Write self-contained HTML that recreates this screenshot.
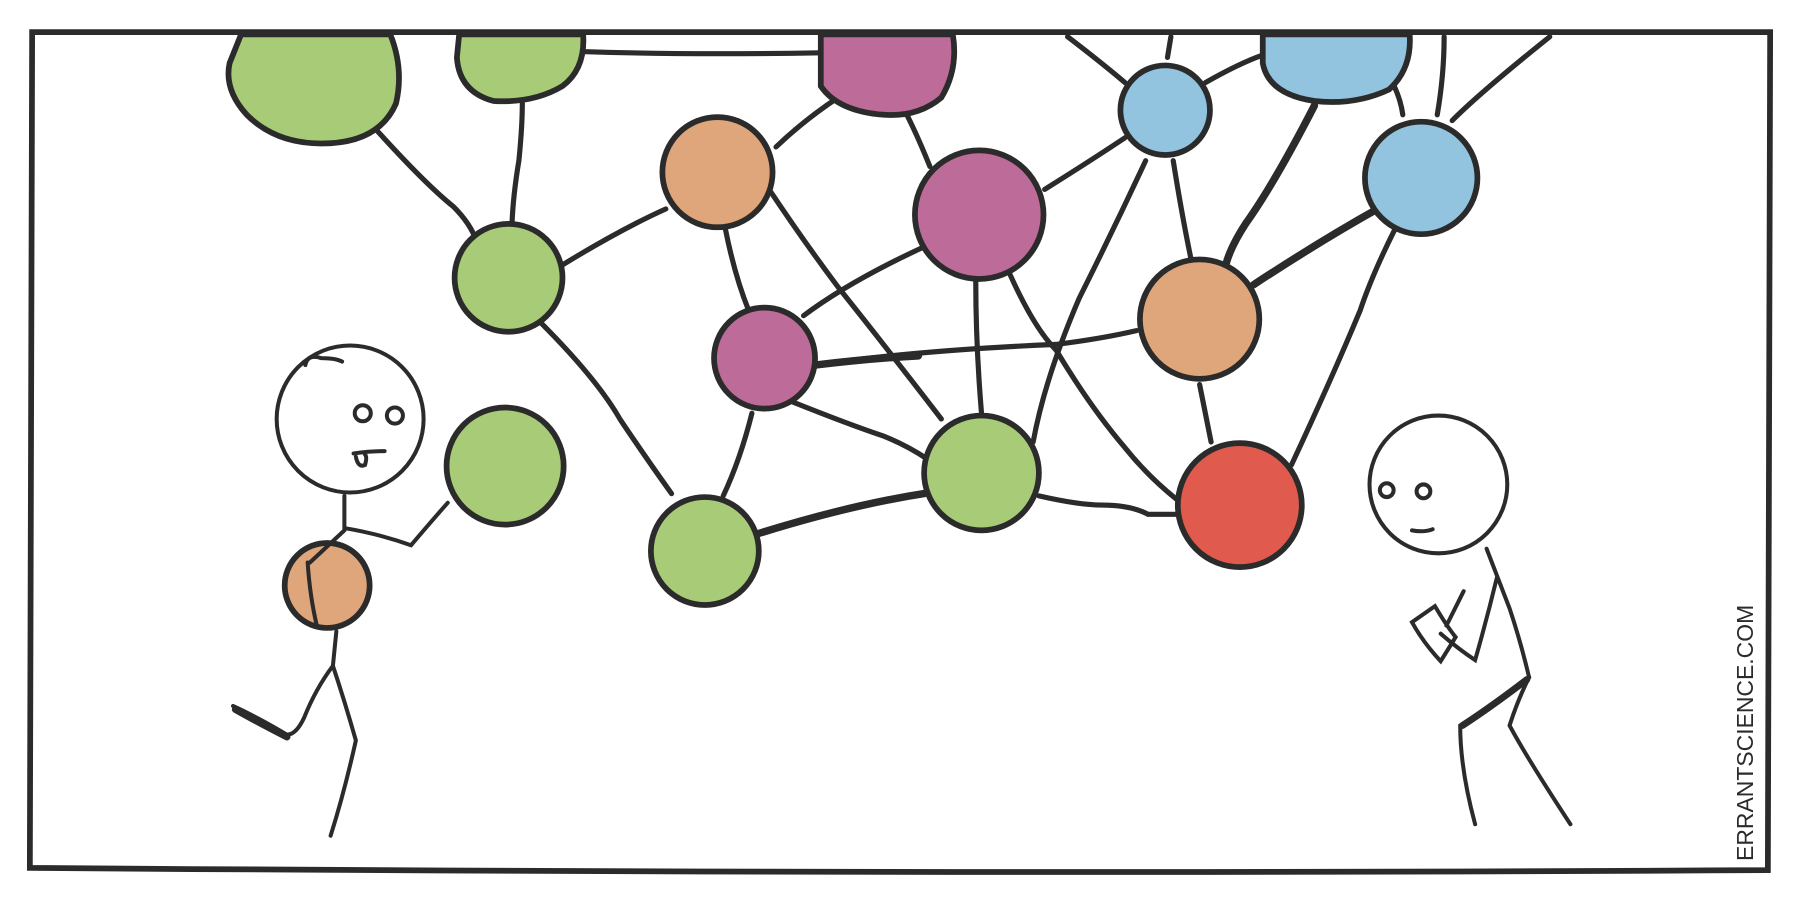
<!DOCTYPE html>
<html><head><meta charset="utf-8"><style>html,body{margin:0;padding:0;background:#fff;width:1800px;height:900px;overflow:hidden}</style></head><body>
<svg width="1800" height="900" viewBox="0 0 1568 784" xmlns="http://www.w3.org/2000/svg">
<rect width="1568" height="784" fill="#fff"/>
<g stroke="#2b2b2b" stroke-linecap="round" fill="none">
<g stroke-width="4.5">
<path d="M325,110 Q370,160 395,180 Q410,195 415,210"/>
<path d="M455,90 Q455,110 452,140 Q447,170 446,195"/>
<path d="M510,45 Q600,48 715,46"/>
<path d="M488,232 Q540,200 580,182"/>
<path d="M470,280 Q520,330 540,365 Q560,395 585,430"/>
<path d="M676,128 Q700,105 730,85"/>
<path d="M790,100 Q800,120 810,145"/>
<path d="M632,200 Q640,240 652,270"/>
<path d="M670,165 Q700,210 730,250 Q770,300 820,365"/>
<path d="M700,275 Q740,245 805,215"/>
<path d="M655,360 Q645,400 630,432"/>
<path d="M690,350 Q740,370 770,380 Q790,388 808,400"/>
<path d="M850,245 Q850,300 855,360"/>
<path d="M878,235 Q900,285 920,305 Q950,355 980,390 Q1000,415 1025,435"/>
<path d="M900,385 Q910,330 940,260 Q970,200 998,140"/>
<path d="M910,165 Q950,140 980,120"/>
<path d="M930,32 Q960,55 980,72"/>
<path d="M1020,32 L1017,50"/>
<path d="M1050,72 Q1080,55 1100,48"/>
<path d="M1022,140 Q1030,190 1038,228"/>
<path d="M1212,70 Q1220,85 1222,100"/>
<path d="M1258,32 Q1258,65 1252,100"/>
<path d="M1265,105 Q1290,80 1350,32"/>
<path d="M1215,200 Q1195,240 1185,270 Q1160,330 1125,405"/>
<path d="M1045,335 Q1050,360 1055,385"/>
<path d="M905,432 Q940,440 960,440 Q985,440 1000,448 L1025,448"/>
<path d="M710,318 Q800,305 920,300 Q960,295 990,288"/>
</g>
<g stroke-width="6.5">
<path d="M1145,92 Q1110,160 1085,195 Q1072,215 1068,230"/>
<path d="M1092,248 Q1150,210 1200,182"/>
<path d="M660,465 Q740,440 805,430"/>
<path d="M710,318 Q760,312 800,310"/>
</g>
<path d="M28,28 Q700,26 1542,28 L1540,758 Q800,762 26,756 Z" stroke-width="5"/>
<g stroke-width="5">
<path d="M210,30 L340,30 Q352,60 345,90 Q330,125 280,125 Q240,125 215,100 Q195,78 200,55 Z" fill="#a8cb78"/>
<path d="M400,30 L508,30 Q510,60 490,75 Q465,90 430,88 Q400,80 398,50 Z" fill="#a8cb78"/>
<circle cx="443" cy="242" r="47" fill="#a8cb78"/>
<circle cx="440" cy="406" r="51" fill="#a8cb78"/>
<circle cx="614" cy="480" r="47" fill="#a8cb78"/>
<circle cx="855" cy="412" r="50" fill="#a8cb78"/>
<path d="M715,30 L830,30 Q835,60 820,85 Q800,102 770,100 Q730,97 715,75 Z" fill="#bd6b99"/>
<circle cx="853" cy="187" r="56" fill="#bd6b99"/>
<circle cx="666" cy="312" r="44" fill="#bd6b99"/>
<circle cx="625" cy="150" r="48" fill="#dfa57b"/>
<circle cx="1045" cy="278" r="52" fill="#dfa57b"/>
<circle cx="285" cy="510" r="37" fill="#dfa57b"/>
<circle cx="1015" cy="96" r="39" fill="#92c4e0"/>
<path d="M1100,30 L1228,30 Q1230,60 1210,78 Q1180,92 1145,88 Q1105,82 1100,55 Z" fill="#92c4e0"/>
<circle cx="1238" cy="155" r="49" fill="#92c4e0"/>
<circle cx="1080" cy="440" r="54" fill="#e05b4e"/>
</g>
<g stroke-width="3.5">
<circle cx="305" cy="365" r="64" fill="#fff"/>
<circle cx="316" cy="360" r="7"/><circle cx="344" cy="362" r="7"/>
<path d="M308,395 Q322,393 335,393"/><path d="M310,398 Q312,408 318,405 Q320,398 318,396"/>
<path d="M266,318 Q268,308 280,312 Q292,312 298,315"/>
<path d="M300,432 L300,460"/>
<path d="M300,460 Q330,465 358,475 Q375,455 390,438"/>
<path d="M300,462 L270,490"/>
<path d="M268,490 Q270,520 276,545"/>
<path d="M293,550 L290,580 Q300,610 310,645 Q300,690 288,728"/>
<path d="M290,580 Q275,600 265,625 Q258,640 250,640 Q225,625 203,615"/>
</g>
<g stroke-width="6"><path d="M205,618 Q230,632 250,642"/></g>
<g stroke-width="3.5">
<circle cx="1253" cy="422" r="60" fill="#fff"/>
<circle cx="1208" cy="427" r="6"/><circle cx="1240" cy="428" r="6"/>
<path d="M1230,462 Q1240,464 1248,461"/>
<path d="M1295,478 L1315,530 Q1325,560 1332,590"/>
<path d="M1304,503 Q1295,540 1285,575 Q1270,565 1255,552"/>
<path d="M1230,542 L1250,528 Q1260,545 1268,555 L1255,576 Q1240,560 1230,542 Z"/>
<path d="M1260,545 L1275,515"/>
<path d="M1332,590 Q1300,615 1272,632 Q1272,670 1285,718"/>
<path d="M1332,590 Q1322,610 1315,632 Q1330,660 1368,718"/>
</g>
<g stroke-width="6"><path d="M1330,592 Q1300,615 1274,632"/></g>
</g>
<text transform="translate(1527,750) rotate(-90)" font-family="Liberation Sans, sans-serif" font-size="20" fill="#2b2b2b">ERRANTSCIENCE.COM</text>
</svg>
</body></html>
